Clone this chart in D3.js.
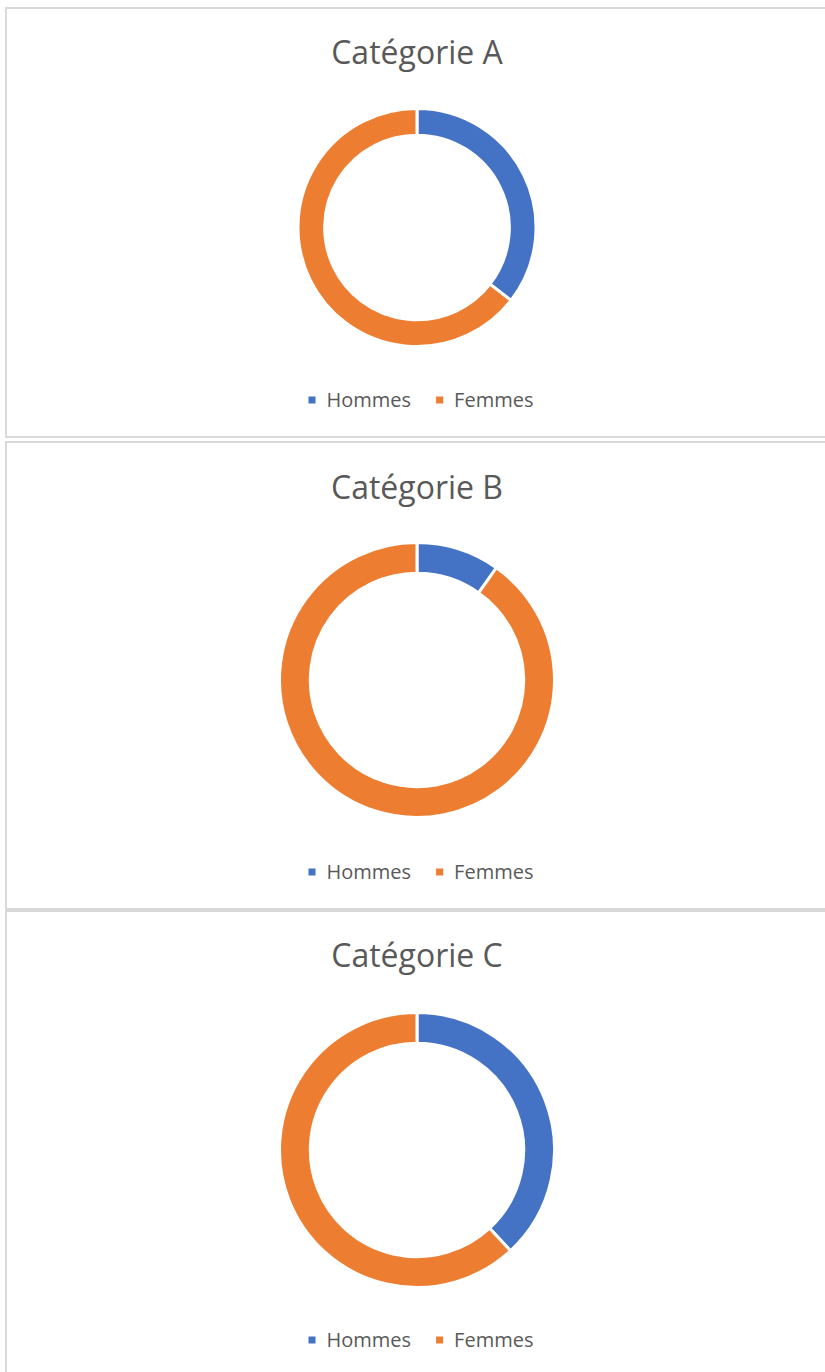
<!DOCTYPE html>
<html>
<head>
<meta charset="utf-8">
<script src="https://cdn.jsdelivr.net/npm/d3@7"></script>
<style>
  html, body { margin: 0; padding: 0; background: #fff; }
  svg { display: block; }
</style>
</head>
<body>
<div id="chart"></div>
<script>
// data (share of each group, %)
const categories = ["Catégorie A", "Catégorie B", "Catégorie C"];
const seriesNames = ["Hommes", "Femmes"];
const hommes = [35.5, 9.8, 38.1];
const femmes = [64.5, 90.2, 61.9];
const colors = ["#4472C4", "#ED7D31"];

const width = 825, height = 1372;

// panel frames, one per category
const panels = [
  {top: 8,   bottom: 437,  cy: 227.5, r: 119,   titleY: 64,  legendY: 400},
  {top: 442, bottom: 909,  cy: 680,   r: 137.5, titleY: 499, legendY: 872},
  {top: 911, bottom: 1380, cy: 1150,  r: 137.5, titleY: 967, legendY: 1340}
];
const cx = 417;

const svg = d3.select("#chart")
  .append("svg")
    .attr("width", width)
    .attr("height", height)
    .style("font-family", "'Open Sans', sans-serif");

const pie = d3.pie().sort(null).value(d => d.value);

categories.forEach((cat, i) => {
  const p = panels[i];
  const g = svg.append("g");

  g.append("rect")
    .attr("x", 6)
    .attr("y", p.top)
    .attr("width", 830)
    .attr("height", p.bottom - p.top)
    .attr("fill", "#fff")
    .attr("stroke", "#d9d9d9")
    .attr("stroke-width", 2);

  g.append("text")
    .attr("x", cx)
    .attr("y", p.titleY)
    .attr("text-anchor", "middle")
    .attr("fill", "#595959")
    .style("font-size", "32px")
    .text(cat);

  const rows = seriesNames.map((name, k) => ({name, value: k === 0 ? hommes[i] : femmes[i]}));
  const arc = d3.arc().innerRadius(p.r * 0.776).outerRadius(p.r);

  g.append("g")
    .attr("transform", `translate(${cx},${p.cy})`)
    .selectAll("path")
    .data(pie(rows))
    .join("path")
      .attr("d", arc)
      .attr("fill", (d, k) => colors[k])
      .attr("stroke", "#fff")
      .attr("stroke-width", 3);

  // legend, centred under the donut
  const leg = g.append("g");
  const items = leg.selectAll("g")
    .data(seriesNames)
    .join("g");
  items.append("rect")
    .attr("width", 7)
    .attr("height", 7)
    .attr("y", -3.5)
    .attr("fill", (d, k) => colors[k]);
  items.append("text")
    .attr("x", 18)
    .attr("dy", "0.35em")
    .attr("fill", "#595959")
    .style("font-size", "20px")
    .text(d => d);

  let x = 0;
  items.each(function () {
    d3.select(this).attr("transform", `translate(${x},0)`);
    x += 18 + this.querySelector("text").getComputedTextLength() + 25;
  });
  const total = x - 25;
  leg.attr("transform", `translate(${cx + 4 - total / 2},${p.legendY})`);
});
</script>
</body>
</html>
